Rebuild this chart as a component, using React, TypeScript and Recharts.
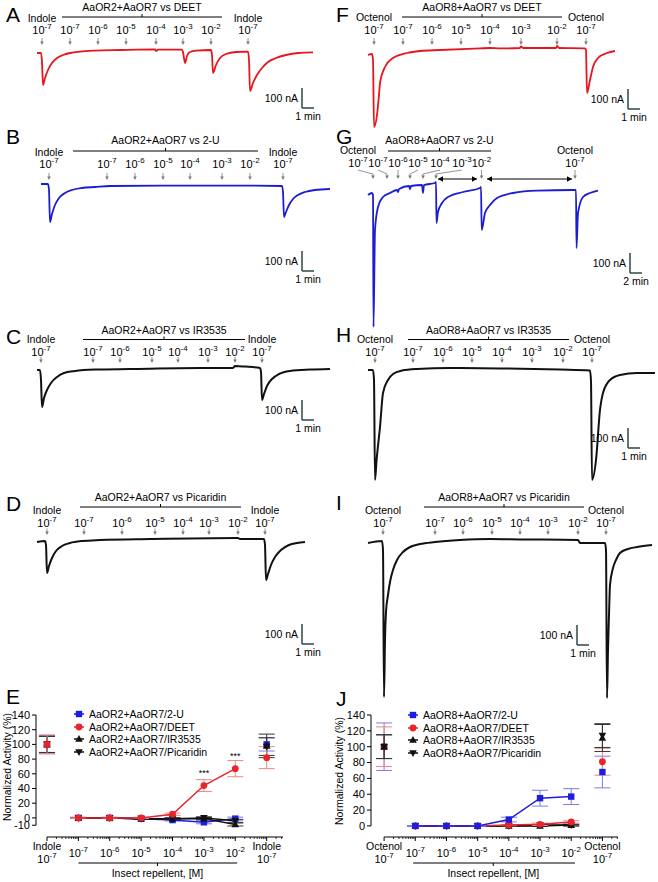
import React from 'react';
import {
  LineChart, ComposedChart, Line, XAxis, YAxis, ReferenceLine, ReferenceDot,
  ErrorBar, Legend, LabelList,
} from 'recharts';

const FONT = '"Liberation Sans", Arial, Helvetica, sans-serif';
const RED = '#e5161e';
const BLUE = '#1c1cd2';
const BLACK = '#111111';
const GREY = '#7a7a7a';
const BAR = '#2e4747';

// ---------- two-electrode recordings: [time (s), current (nA)] ----------
const traceA = [[0,-15],[20,-15],[25,-60],[30,-175],[40,-140],[55,-100],[75,-65],[100,-40],[130,-25],[165,-15],[215,-8],[290,-3],[415,0],[590,3],[595,-5],[605,2],[725,2],[730,-10],[740,-65],[750,-30],[765,-10],[795,-3],[870,0],[875,-25],[880,-115],[895,-75],[915,-40],[945,-20],[995,-10],[1055,-8],[1060,-50],[1065,-205],[1080,-165],[1100,-125],[1125,-90],[1155,-60],[1195,-40],[1245,-25],[1305,-15],[1380,-12]];
const traceB = [[0,10],[35,10],[40,-20],[45,-180],[55,-140],[70,-95],[90,-60],[120,-35],[155,-20],[205,-10],[270,-5],[345,0],[700,2],[1045,2],[1205,0],[1210,-30],[1215,-155],[1225,-130],[1240,-95],[1260,-65],[1285,-45],[1320,-30],[1370,-20],[1445,-15]];
const traceC = [[0,-5],[15,-5],[20,-55],[25,-190],[35,-145],[50,-105],[70,-70],[100,-40],[135,-20],[190,-10],[290,-3],[465,0],[815,5],[980,5],[990,15],[1040,12],[1115,5],[1120,-15],[1125,-155],[1135,-125],[1150,-85],[1175,-50],[1210,-25],[1265,-10],[1365,-3],[1465,0]];
const traceD = [[0,-10],[40,-5],[45,-25],[50,-165],[60,-130],[75,-90],[95,-55],[125,-30],[165,-15],[225,-5],[315,0],[565,5],[1005,10],[1015,5],[1135,5],[1140,-25],[1145,-200],[1155,-170],[1170,-125],[1190,-85],[1220,-50],[1260,-25],[1300,-15],[1340,-10]];
const traceF = [[0,-25],[20,-20],[25,-50],[30,-385],[45,-325],[55,-225],[60,-165],[85,-85],[125,-40],[195,-15],[260,-5],[360,0],[560,8],[610,10],[660,8],[760,10],[765,18],[775,10],[940,10],[945,20],[955,10],[1085,8],[1090,0],[1095,-215],[1110,-150],[1125,-85],[1150,-40],[1195,-15],[1235,-5]];
const traceG = [[0,-40],[40,-30],[50,-40],[55,-700],[70,-215],[100,-100],[150,-50],[220,-30],[290,-15],[300,-25],[310,-10],[410,5],[420,-10],[430,5],[540,10],[550,-30],[560,10],[670,20],[680,25],[685,-180],[700,-125],[740,-80],[800,-50],[950,-25],[1120,-5],[1130,0],[1137,-215],[1170,-130],[1220,-90],[1290,-55],[1450,-30],[1690,-18],[2050,-15],[2080,-15],[2085,-305],[2100,-130],[2150,-50],[2220,-30],[2300,-18]];
const traceH = [[0,-5],[25,-5],[30,-55],[35,-555],[43,-455],[60,-290],[75,-120],[100,-55],[125,-25],[170,-8],[245,0],[410,5],[660,3],[960,-3],[1110,-8],[1115,-60],[1120,-555],[1140,-455],[1160,-205],[1175,-120],[1210,-55],[1260,-30],[1345,-20],[1435,-20]];
const traceI = [[0,-10],[70,0],[75,-45],[80,-780],[85,-495],[90,-355],[100,-270],[110,-205],[125,-145],[145,-95],[175,-55],[210,-30],[260,-15],[335,-5],[460,5],[610,10],[760,8],[1050,5],[1060,-10],[1185,-10],[1190,-45],[1195,-785],[1200,-545],[1205,-370],[1210,-220],[1225,-135],[1240,-95],[1260,-60],[1300,-40],[1345,-30],[1420,-20]];

type Stim = { t: number; exp: string; name?: string; lt?: number };

const stimsA: Stim[] = [{ t: 25, name: 'Indole', exp: '-7' }, { t: 165, exp: '-7' }, { t: 305, exp: '-6' }, { t: 445, exp: '-5' }, { t: 595, exp: '-4' }, { t: 730, exp: '-3' }, { t: 870, exp: '-2' }, { t: 1055, name: 'Indole', exp: '-7' }];
const stimsB: Stim[] = [{ t: 40, name: 'Indole', exp: '-7' }, { t: 330, exp: '-7' }, { t: 470, exp: '-6' }, { t: 610, exp: '-5' }, { t: 745, exp: '-4' }, { t: 905, exp: '-3' }, { t: 1045, exp: '-2' }, { t: 1210, name: 'Indole', exp: '-7' }];
const stimsC: Stim[] = [{ t: 20, name: 'Indole', exp: '-7' }, { t: 280, exp: '-7' }, { t: 415, exp: '-6' }, { t: 575, exp: '-5' }, { t: 705, exp: '-4' }, { t: 855, exp: '-3' }, { t: 990, exp: '-2' }, { t: 1125, name: 'Indole', exp: '-7' }];
const stimsD: Stim[] = [{ t: 50, name: 'Indole', exp: '-7' }, { t: 235, exp: '-7' }, { t: 425, exp: '-6' }, { t: 590, exp: '-5' }, { t: 730, exp: '-4' }, { t: 860, exp: '-3' }, { t: 1005, exp: '-2' }, { t: 1140, name: 'Indole', exp: '-7' }];
const stimsF: Stim[] = [{ t: 30, name: 'Octenol', exp: '-7' }, { t: 175, exp: '-7' }, { t: 320, exp: '-6' }, { t: 465, exp: '-5' }, { t: 610, exp: '-4' }, { t: 765, exp: '-3' }, { t: 945, exp: '-2' }, { t: 1090, name: 'Octenol', exp: '-7' }];
const stimsG: Stim[] = [{ t: 50, lt: -100, name: 'Octenol', exp: '-7' }, { t: 190, lt: 100, exp: '-7' }, { t: 300, exp: '-6' }, { t: 420, lt: 500, exp: '-5' }, { t: 550, lt: 720, exp: '-4' }, { t: 680, lt: 940, exp: '-3' }, { t: 1135, exp: '-2' }, { t: 2070, name: 'Octenol', exp: '-7' }];
const stimsH: Stim[] = [{ t: 35, name: 'Octenol', exp: '-7' }, { t: 225, exp: '-7' }, { t: 375, exp: '-6' }, { t: 520, exp: '-5' }, { t: 670, exp: '-4' }, { t: 820, exp: '-3' }, { t: 975, exp: '-2' }, { t: 1120, name: 'Octenol', exp: '-7' }];
const stimsI: Stim[] = [{ t: 75, name: 'Octenol', exp: '-7' }, { t: 335, exp: '-7' }, { t: 475, exp: '-6' }, { t: 620, exp: '-5' }, { t: 760, exp: '-4' }, { t: 900, exp: '-3' }, { t: 1050, exp: '-2' }, { t: 1190, name: 'Octenol', exp: '-7' }];

// ---------- dose response (normalized activity, %) ----------
const DOSES = [1e-7, 1e-6, 1e-5, 1e-4, 1e-3, 1e-2];
const REF_AT = [1e-8, 1e-1]; // reference odorant before / after the series

const E_2U = [0, 0, -1, -3, -6, -1];
const E_2U_SEM = [0.8, 0.8, 1, 1.2, 2, 2];
const E_2U_REF = [100, 100];
const E_2U_REF_SEM = [12, 9];
const E_DEET = [0, 0, 0, 5, 44, 67];
const E_DEET_SEM = [0.8, 0.8, 0.8, 1.5, 8, 11];
const E_DEET_REF = [100, 82];
const E_DEET_REF_SEM = [13, 15];
const E_DEET_SIG = ['', '', '', '', '***', '***'];
const E_IR = [0, 0, -1, -1, -1, -9];
const E_IR_SEM = [0.5, 0.5, 0.8, 1, 1.5, 2];
const E_IR_REF = [100, 98];
const E_IR_REF_SEM = [11, 16];
const E_PIC = [0, 0, -1, -1, 0, -4];
const E_PIC_SEM = [0.5, 0.5, 0.5, 1, 1.5, 2];
const E_PIC_REF = [100, 97];
const E_PIC_REF_SEM = [11, 12];

const J_2U = [0, 0, 0, 8, 35, 37];
const J_2U_SEM = [0.5, 0.5, 0.5, 3, 10, 10];
const J_2U_REF = [100, 68];
const J_2U_REF_SEM = [30, 20];
const J_DEET = [0, 0, 0, 1, 2, 5];
const J_DEET_SEM = [0.5, 0.5, 0.5, 0.8, 1.5, 1.5];
const J_DEET_REF = [100, 81];
const J_DEET_REF_SEM = [25, 17];
const J_IR = [0, 0, 0, 0, 0, 1];
const J_IR_SEM = [0.3, 0.3, 0.3, 0.5, 0.8, 1];
const J_IR_REF = [100, 111];
const J_IR_REF_SEM = [15, 17];
const J_PIC = [0, 0, 0, 0, 1, 1];
const J_PIC_SEM = [0.3, 0.3, 0.3, 0.5, 0.8, 1];
const J_PIC_REF = [100, 114];
const J_PIC_REF_SEM = [15, 15];

const MAJOR_TICKS = [1e-8, 1e-7, 1e-6, 1e-5, 1e-4, 1e-3, 1e-2, 1e-1];
const MAJOR_EXP = ['-7', '-7', '-6', '-5', '-4', '-3', '-2', '-7'];
const E_Y_TICKS = [-10, 0, 20, 40, 60, 80, 100, 120, 140];
const J_Y_TICKS = [0, 20, 40, 60, 80, 100, 120, 140];

// ---------- helpers ----------
function Pow({ x, y, exp, size = 11 }: { x: number; y: number; exp: string; size?: number }) {
  return (
    <text x={x} y={y} textAnchor="middle" fontFamily={FONT} fontSize={size} fill="#000">
      10<tspan dy={-size * 0.42} fontSize={size * 0.72}>{exp}</tspan>
    </text>
  );
}

const textShape = (s: string, anchor: 'start' | 'middle' | 'end' = 'middle', dx = 0, dy = 0, size = 10.5) =>
  (q: any) => (
    <text x={q.cx + dx} y={q.cy + dy} textAnchor={anchor} fontFamily={FONT} fontSize={size} fill="#000">{s}</text>
  );
const powShape = (exp: string) => (q: any) => <Pow x={q.cx} y={q.cy} exp={exp} />;
const headDown = (q: any) => (
  <polygon points={`${q.cx - 1.8},${q.cy - 3.5} ${q.cx + 1.8},${q.cy - 3.5} ${q.cx},${q.cy}`} fill={GREY} />
);
const headLeft = (q: any) => (
  <polygon points={`${q.cx},${q.cy} ${q.cx + 5},${q.cy - 2.8} ${q.cx + 5},${q.cy + 2.8}`} fill="#000" />
);
const headRight = (q: any) => (
  <polygon points={`${q.cx},${q.cy} ${q.cx - 5},${q.cy - 2.8} ${q.cx - 5},${q.cy + 2.8}`} fill="#000" />
);

type PanelCfg = {
  id: string; left: number; top: number; width: number; height: number;
  x0: number; y0: number; sPx: number; color: string; lineW: number;
  data: number[][]; stims: Stim[]; title: string; bracket: [number, number];
  rows: { title: number; bracket: number; name: number; conc: number; a1: number; a2: number; lead?: number };
  bar: { t: number; i: number; sec: number; unit: string };
  spans?: [number, number][];
};

const NA_PER_PX = 5;

const PANELS: PanelCfg[] = [
  { id: 'A', left: 0, top: 0, width: 330, height: 126, x0: 37, y0: 50, sPx: 5, color: RED, lineW: 1.8, data: traceA, stims: stimsA,
    title: 'AaOR2+AaOR7 vs DEET', bracket: [125, 925],
    rows: { title: 10.5, bracket: 17, name: 21.5, conc: 33.5, a1: 38, a2: 45 }, bar: { t: 1325, i: -290, sec: 60, unit: '1 min' } },
  { id: 'B', left: 0, top: 128, width: 330, height: 162, x0: 41, y0: 186, sPx: 5, color: BLUE, lineW: 1.8, data: traceB, stims: stimsB,
    title: 'AaOR2+AaOR7 vs 2-U', bracket: [160, 1085],
    rows: { title: 144, bracket: 151, name: 155.5, conc: 167.5, a1: 173, a2: 180 }, bar: { t: 1305, i: -425, sec: 60, unit: '1 min' } },
  { id: 'C', left: 0, top: 322, width: 330, height: 118, x0: 37, y0: 369, sPx: 5, color: BLACK, lineW: 2, data: traceC, stims: stimsC,
    title: 'AaOR2+AaOR7 vs IR3535', bracket: [230, 1040],
    rows: { title: 334, bracket: 339.5, name: 343, conc: 355.5, a1: 357, a2: 363 }, bar: { t: 1325, i: -255, sec: 60, unit: '1 min' } },
  { id: 'D', left: 0, top: 488, width: 330, height: 174, x0: 37, y0: 540, sPx: 5, color: BLACK, lineW: 2, data: traceD, stims: stimsD,
    title: 'AaOR2+AaOR7 vs Picaridin', bracket: [215, 1020],
    rows: { title: 501, bracket: 507, name: 514, conc: 526.5, a1: 528.5, a2: 535 }, bar: { t: 1325, i: -520, sec: 60, unit: '1 min' } },
  { id: 'F', left: 330, top: 0, width: 328, height: 138, x0: 368, y0: 50, sPx: 5, color: RED, lineW: 1.8, data: traceF, stims: stimsF,
    title: 'AaOR8+AaOR7 vs DEET', bracket: [170, 970],
    rows: { title: 10.5, bracket: 17, name: 20.5, conc: 33.5, a1: 38, a2: 45 }, bar: { t: 1300, i: -295, sec: 60, unit: '1 min' } },
  { id: 'G', left: 330, top: 128, width: 328, height: 200, x0: 368, y0: 187, sPx: 10, color: BLUE, lineW: 1.8, data: traceG, stims: stimsG,
    title: 'AaOR8+AaOR7 vs 2-U', bracket: [200, 1230],
    rows: { title: 144, bracket: 151, name: 154, conc: 166.5, a1: 170, a2: 179, lead: 174 }, bar: { t: 2620, i: -430, sec: 120, unit: '2 min' },
    spans: [[700, 1090], [1190, 2040]] },
  { id: 'H', left: 330, top: 322, width: 328, height: 166, x0: 368, y0: 369, sPx: 5, color: BLACK, lineW: 2, data: traceH, stims: stimsH,
    title: 'AaOR8+AaOR7 vs IR3535', bracket: [200, 1005],
    rows: { title: 333.5, bracket: 339.5, name: 343, conc: 355.5, a1: 357, a2: 363 }, bar: { t: 1300, i: -395, sec: 60, unit: '1 min' } },
  { id: 'I', left: 330, top: 488, width: 328, height: 214, x0: 368, y0: 541, sPx: 5, color: BLACK, lineW: 2, data: traceI, stims: stimsI,
    title: 'AaOR8+AaOR7 vs Picaridin', bracket: [280, 1080],
    rows: { title: 500.5, bracket: 507, name: 514, conc: 526.5, a1: 528.5, a2: 535 }, bar: { t: 1045, i: -520, sec: 60, unit: '1 min' } },
];

function TracePanel({ p }: { p: PanelCfg }) {
  const iAt = (py: number) => (p.y0 - py) * NA_PER_PX;
  const xDomain: [number, number] = [(p.left - p.x0) * p.sPx, (p.left + p.width - p.x0) * p.sPx];
  const yDomain: [number, number] = [iAt(p.top + p.height), iAt(p.top)];
  const data = p.data.map(([t, i]) => ({ t, i }));
  const r = p.rows;
  const [b0, b1] = p.bracket;
  const mid = (b0 + b1) / 2;
  const items: React.ReactElement[] = [];
  const seg = (k: string, x1: number, y1: number, x2: number, y2: number, stroke = '#000', w = 1) => {
    items.push(<ReferenceLine key={k} segment={[{ x: x1, y: y1 }, { x: x2, y: y2 }]} stroke={stroke} strokeWidth={w} ifOverflow="visible" />);
  };
  const mark = (k: string, x: number, y: number, shape: (q: any) => React.ReactElement) => {
    items.push(<ReferenceDot key={k} x={x} y={y} r={1} ifOverflow="visible" shape={shape} />);
  };

  seg('br', b0, iAt(r.bracket), b1, iAt(r.bracket));
  seg('brt', mid, iAt(r.bracket), mid, iAt(r.bracket - 3));
  mark('title', mid, iAt(r.title), textShape(p.title));

  p.stims.forEach((s, k) => {
    const lx = s.lt ?? s.t;
    mark(`c${k}`, lx, iAt(r.conc), powShape(s.exp));
    if (s.name) mark(`n${k}`, lx, iAt(r.name), textShape(s.name));
    if (s.lt !== undefined && r.lead !== undefined) {
      seg(`l${k}`, lx, iAt(r.a1), s.t, iAt(r.lead), GREY, 0.8);
      seg(`a${k}`, s.t, iAt(r.lead), s.t, iAt(r.a2 - 2), GREY, 0.8);
    } else {
      seg(`a${k}`, s.t, iAt(r.a1), s.t, iAt(r.a2 - 2), GREY, 0.8);
    }
    mark(`h${k}`, s.t, iAt(r.a2), headDown);
  });

  (p.spans || []).forEach(([s0, s1], k) => {
    seg(`sp${k}`, s0, iAt(r.a2), s1, iAt(r.a2), '#000', 1.2);
    mark(`spl${k}`, s0, iAt(r.a2), headLeft);
    mark(`spr${k}`, s1, iAt(r.a2), headRight);
  });

  const { t, i, sec, unit } = p.bar;
  seg('sv', t, i, t, i + 100, BAR, 1.5);
  seg('sh', t, i, t + sec, i, BAR, 1.5);
  mark('sl1', t, i + 50, textShape('100 nA', 'end', -4, 4));
  mark('sl2', t + sec / 2, i, textShape(unit, 'middle', 0, 12));

  return (
    <div style={{ position: 'absolute', left: p.left, top: p.top }}>
      <LineChart width={p.width} height={p.height} data={data} margin={{ top: 0, right: 0, bottom: 0, left: 0 }}>
        <XAxis type="number" dataKey="t" domain={xDomain} hide allowDataOverflow />
        <YAxis type="number" domain={yDomain} hide allowDataOverflow />
        {items}
        <Line type="monotone" dataKey="i" stroke={p.color} strokeWidth={p.lineW} dot={false} activeDot={false} isAnimationActive={false} />
      </LineChart>
    </div>
  );
}

// ---------- dose response charts ----------
type Shape = 'square' | 'circle' | 'up' | 'down';
type DoseSeries = {
  name: string; color: string; errColor: string; shape: Shape;
  vals: number[]; sem: number[]; ref: number[]; refSem: number[]; sig?: string[];
};

function Marker({ shape, cx, cy, color }: { shape: Shape; cx: number; cy: number; color: string }) {
  if (shape === 'square') return <rect x={cx - 3.2} y={cy - 3.2} width={6.4} height={6.4} fill={color} />;
  if (shape === 'circle') return <circle cx={cx} cy={cy} r={3.4} fill={color} />;
  if (shape === 'up') return <polygon points={`${cx},${cy - 4} ${cx + 3.8},${cy + 2.8} ${cx - 3.8},${cy + 2.8}`} fill={color} />;
  return <polygon points={`${cx},${cy + 4} ${cx + 3.8},${cy - 2.8} ${cx - 3.8},${cy - 2.8}`} fill={color} />;
}

const E_BLUE = '#1d1de0';
const E_RED = '#e8252b';

const E_SERIES: DoseSeries[] = [
  { name: 'AaOR2+AaOR7/2-U', color: E_BLUE, errColor: '#7b7bec', shape: 'square', vals: E_2U, sem: E_2U_SEM, ref: E_2U_REF, refSem: E_2U_REF_SEM },
  { name: 'AaOR2+AaOR7/DEET', color: E_RED, errColor: '#f08585', shape: 'circle', vals: E_DEET, sem: E_DEET_SEM, ref: E_DEET_REF, refSem: E_DEET_REF_SEM, sig: E_DEET_SIG },
  { name: 'AaOR2+AaOR7/IR3535', color: BLACK, errColor: '#333', shape: 'up', vals: E_IR, sem: E_IR_SEM, ref: E_IR_REF, refSem: E_IR_REF_SEM },
  { name: 'AaOR2+AaOR7/Picaridin', color: BLACK, errColor: '#333', shape: 'down', vals: E_PIC, sem: E_PIC_SEM, ref: E_PIC_REF, refSem: E_PIC_REF_SEM },
];
const J_SERIES: DoseSeries[] = [
  { name: 'AaOR8+AaOR7/2-U', color: E_BLUE, errColor: '#7b7bec', shape: 'square', vals: J_2U, sem: J_2U_SEM, ref: J_2U_REF, refSem: J_2U_REF_SEM },
  { name: 'AaOR8+AaOR7/DEET', color: E_RED, errColor: '#f08585', shape: 'circle', vals: J_DEET, sem: J_DEET_SEM, ref: J_DEET_REF, refSem: J_DEET_REF_SEM },
  { name: 'AaOR8+AaOR7/IR3535', color: BLACK, errColor: '#333', shape: 'up', vals: J_IR, sem: J_IR_SEM, ref: J_IR_REF, refSem: J_IR_REF_SEM },
  { name: 'AaOR8+AaOR7/Picaridin', color: BLACK, errColor: '#333', shape: 'down', vals: J_PIC, sem: J_PIC_SEM, ref: J_PIC_REF, refSem: J_PIC_REF_SEM },
];

type DoseCfg = {
  left: number; top: number; width: number; height: number;
  yAxisWidth: number; right: number;
  yDomain: [number, number]; yTicks: number[]; yAxisLow: number;
  xDomain: [number, number]; refName: string;
  bracket: [number, number, number];
  series: DoseSeries[]; refOrder: number[]; order: number[];
  legendAt: { left: number; top: number };
  yLabelDx: number; yLabelY: number;
};

const PLOT_TOP = 15;
const X_AXIS_H = 30;
const BOTTOM_M = 15;

const E_CFG: DoseCfg = {
  left: 0, top: 700, width: 330, height: 182, yAxisWidth: 36, right: 47,
  yDomain: [-26, 140], yTicks: E_Y_TICKS, yAxisLow: -10,
  xDomain: [Math.pow(10, -8.35), Math.pow(10, -0.48)], refName: 'Indole',
  bracket: [1e-7, Math.pow(10, -1.94), Math.pow(10, -4.48)],
  series: E_SERIES, refOrder: [0, 2, 3, 1], order: [0, 2, 3, 1],
  legendAt: { left: 73, top: 7.5 }, yLabelDx: -29, yLabelY: 767,
};
const J_CFG: DoseCfg = {
  left: 330, top: 700, width: 328, height: 182, yAxisWidth: 41, right: 40,
  yDomain: [-14, 140], yTicks: J_Y_TICKS, yAxisLow: 0,
  xDomain: [Math.pow(10, -8.42), Math.pow(10, -0.5)], refName: 'Octenol',
  bracket: [Math.pow(10, -7.07), Math.pow(10, -1.88), Math.pow(10, -4.5)],
  series: J_SERIES, refOrder: [0, 1, 2, 3], order: [2, 3, 1, 0],
  legendAt: { left: 77, top: 8.5 }, yLabelDx: -32, yLabelY: 771,
};

const starLabel = (props: any) => {
  const v = props.value;
  if (!v) return null;
  const x = props.x ?? props.viewBox?.x;
  const y = props.y ?? props.viewBox?.y;
  return <text x={x} y={y - 10} textAnchor="middle" fontFamily={FONT} fontSize={9} fill="#000">{v}</text>;
};

function DoseChart({ c }: { c: DoseCfg }) {
  const plotBottom = c.height - X_AXIS_H - BOTTOM_M;
  const ppu = (plotBottom - PLOT_TOP) / (c.yDomain[1] - c.yDomain[0]);
  const yAt = (py: number) => c.yDomain[0] - (py - c.top - plotBottom) / ppu;

  const minor: number[] = [];
  for (let k = -9; k <= 0; k++) {
    for (let m = 2; m <= 9; m++) {
      const v = m * Math.pow(10, k);
      if (v > MAJOR_TICKS[0] && v < c.xDomain[1]) minor.push(v);
    }
  }
  const ticks = [...MAJOR_TICKS, ...minor].sort((a, b) => a - b);

  const renderTick = (props: any) => {
    const { x, y, payload } = props;
    const v = payload.value;
    const k = MAJOR_TICKS.findIndex((m) => Math.abs(Math.log10(m) - Math.log10(v)) < 1e-6);
    if (k < 0) return <line x1={x} y1={y} x2={x} y2={y + 2} stroke="#000" strokeWidth={0.8} />;
    const isRef = k === 0 || k === MAJOR_TICKS.length - 1;
    return (
      <g>
        <line x1={x} y1={y} x2={x} y2={y + 4} stroke="#000" strokeWidth={1} />
        {isRef ? (
          <>
            <text x={x} y={y + 13} textAnchor="middle" fontFamily={FONT} fontSize={10.5} fill="#000">{c.refName}</text>
            <Pow x={x} y={y + 25.5} exp={MAJOR_EXP[k]} />
          </>
        ) : (
          <Pow x={x} y={y + 19.5} exp={MAJOR_EXP[k]} />
        )}
      </g>
    );
  };

  const legendContent = () => (
    <div style={{ fontFamily: FONT, fontSize: 10.5, color: '#000' }}>
      {c.series.map((s) => (
        <div key={s.name} style={{ display: 'flex', alignItems: 'center', height: 12.7, whiteSpace: 'nowrap' }}>
          <svg width={12} height={10} style={{ overflow: 'visible' }}>
            <line x1={1} y1={5} x2={11} y2={5} stroke={s.color} strokeWidth={1.5} />
            <Marker shape={s.shape} cx={6} cy={5} color={s.color} />
          </svg>
          <span style={{ marginLeft: 4 }}>{s.name}</span>
        </div>
      ))}
    </div>
  );

  const [br0, br1, brMid] = c.bracket;
  const brY = yAt(863);

  const dotFor = (s: DoseSeries, tag: string) => (props: any) => (
    <g key={`${s.name}-${tag}-${props.index}`}>
      {props.cx != null && props.cy != null && <Marker shape={s.shape} cx={props.cx} cy={props.cy} color={s.color} />}
    </g>
  );

  const refLines = c.refOrder.map((idx) => {
    const s = c.series[idx];
    const refs = REF_AT.map((d, k) => ({ x: d, y: s.ref[k], e: s.refSem[k] }));
    return (
      <Line key={`${s.name}-ref`} data={refs} dataKey="y" stroke="none" dot={dotFor(s, 'r')} activeDot={false} legendType="none" isAnimationActive={false}>
        <ErrorBar dataKey="e" direction="y" width={8} stroke={s.errColor} strokeWidth={1} isAnimationActive={false} />
      </Line>
    );
  });
  const curveLines = c.order.map((idx) => {
    const s = c.series[idx];
    const curve = DOSES.map((d, k) => ({ x: d, y: s.vals[k], e: s.sem[k], s: s.sig ? s.sig[k] : '' }));
    return (
      <Line key={`${s.name}-curve`} data={curve} dataKey="y" stroke={s.color} strokeWidth={1.5} dot={dotFor(s, 'c')} activeDot={false} isAnimationActive={false}>
        <ErrorBar dataKey="e" direction="y" width={8} stroke={s.errColor} strokeWidth={1} isAnimationActive={false} />
        {s.sig && <LabelList dataKey="s" content={starLabel} />}
      </Line>
    );
  });

  return (
    <div style={{ position: 'absolute', left: c.left, top: c.top }}>
      <ComposedChart width={c.width} height={c.height} margin={{ top: PLOT_TOP, right: c.right, bottom: BOTTOM_M, left: 0 }}>
        <XAxis type="number" dataKey="x" scale="log" domain={c.xDomain} allowDataOverflow ticks={ticks} interval={0}
          tick={renderTick} tickLine={false} axisLine={false} tickSize={0} tickMargin={0} height={X_AXIS_H} />
        <YAxis type="number" domain={c.yDomain} allowDataOverflow ticks={c.yTicks} interval={0} width={c.yAxisWidth}
          axisLine={false} tickSize={4} tickMargin={2} tickLine={{ stroke: '#000' }}
          tick={{ fontSize: 11, fill: '#000', fontFamily: FONT }} />
        <ReferenceLine segment={[{ x: c.xDomain[0], y: c.yAxisLow }, { x: c.xDomain[0], y: c.yTicks[c.yTicks.length - 1] }]} stroke="#000" strokeWidth={1} ifOverflow="visible" />
        <ReferenceLine segment={[{ x: MAJOR_TICKS[0], y: c.yDomain[0] }, { x: c.xDomain[1], y: c.yDomain[0] }]} stroke="#000" strokeWidth={1} ifOverflow="visible" />
        <ReferenceLine segment={[{ x: br0, y: brY }, { x: br1, y: brY }]} stroke="#000" strokeWidth={1.2} ifOverflow="visible" />
        <ReferenceLine segment={[{ x: brMid, y: brY }, { x: brMid, y: yAt(866) }]} stroke="#000" strokeWidth={1} ifOverflow="visible" />
        <ReferenceDot x={brMid} y={yAt(876.5)} r={1} ifOverflow="visible" shape={textShape('Insect repellent, [M]')} />
        <ReferenceDot x={c.xDomain[0]} y={yAt(c.yLabelY)} r={1} ifOverflow="visible"
          shape={(q: any) => (
            <text x={q.cx + c.yLabelDx} y={q.cy} transform={`rotate(-90 ${q.cx + c.yLabelDx} ${q.cy})`} textAnchor="middle"
              dominantBaseline="central" fontFamily={FONT} fontSize={10.5} fill="#000">Normalized Activity (%)</text>
          )} />
        {refLines}
        {curveLines}
        <Legend layout="vertical" align="center" verticalAlign="middle" content={legendContent}
          wrapperStyle={{ left: c.legendAt.left, top: c.legendAt.top, width: 'auto', height: 'auto' }} />
      </ComposedChart>
    </div>
  );
}

const LETTERS: [string, number, number][] = [
  ['A', 6, 22], ['B', 6, 143.5], ['C', 6, 343.5], ['D', 6, 511], ['E', 6, 704],
  ['F', 336, 22], ['G', 336, 143.5], ['H', 336, 342], ['I', 336, 510], ['J', 336, 706],
];

export default function App() {
  return (
    <div style={{ position: 'absolute', left: 0, top: 0, width: 658, height: 882, background: '#fff', overflow: 'hidden', fontFamily: FONT }}>
      {PANELS.map((p) => <TracePanel key={p.id} p={p} />)}
      <DoseChart c={E_CFG} />
      <DoseChart c={J_CFG} />
      <svg width={658} height={882} style={{ position: 'absolute', left: 0, top: 0, pointerEvents: 'none' }}>
        {LETTERS.map(([l, x, y]) => (
          <text key={l} x={x} y={y} fontFamily={FONT} fontSize={21} fill="#000">{l}</text>
        ))}
      </svg>
    </div>
  );
}
